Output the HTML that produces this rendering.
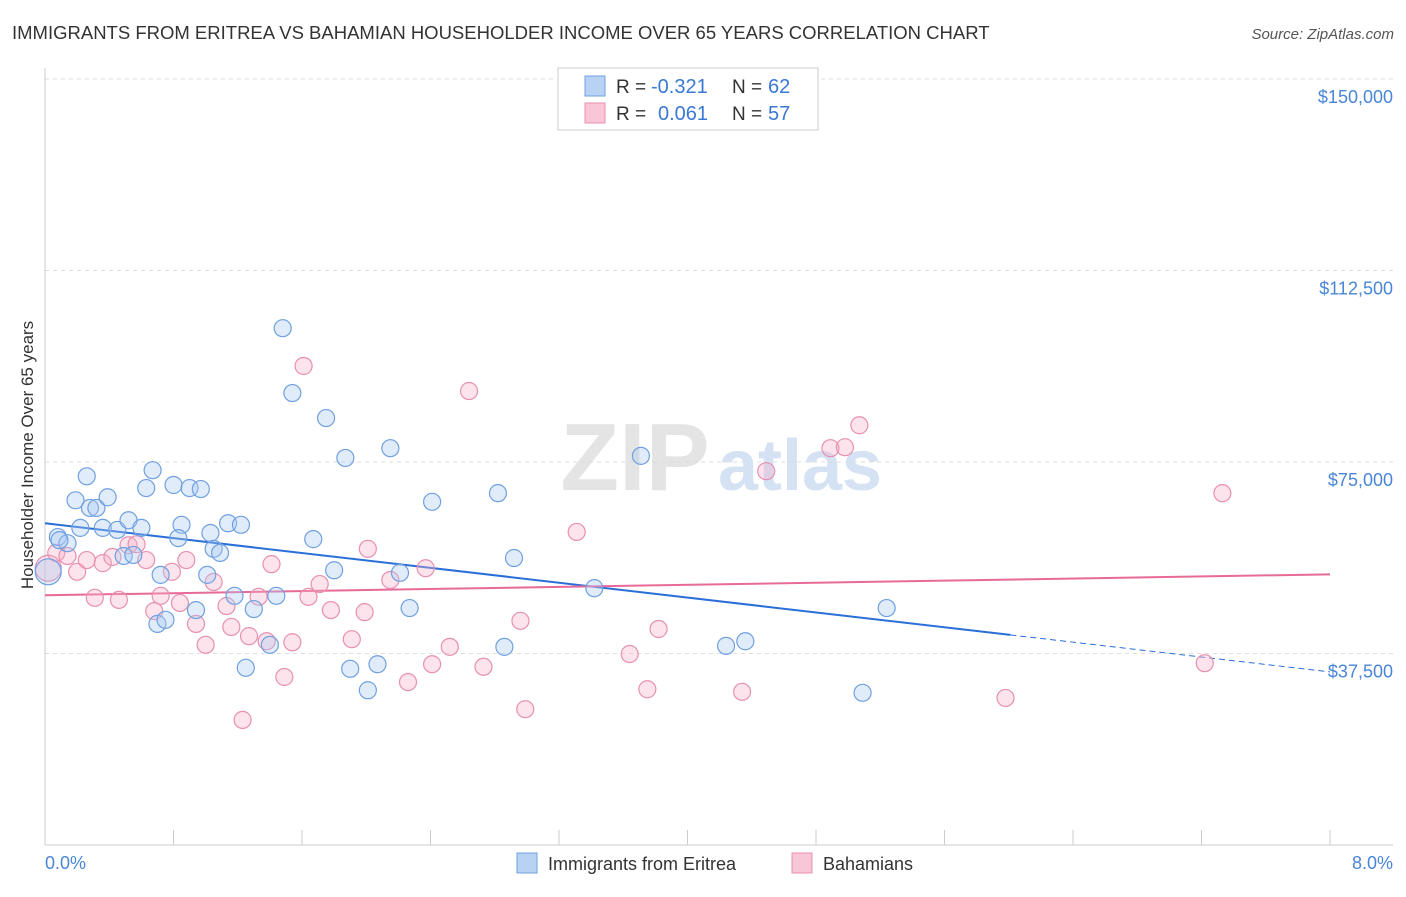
<!DOCTYPE html>
<html><head><meta charset="utf-8"><style>
body{margin:0;background:#fff;font-family:"Liberation Sans",sans-serif;}
svg text{font-family:"Liberation Sans",sans-serif;}
</style></head><body>
<svg id="chart" width="1406" height="892" viewBox="0 0 1406 892" xmlns="http://www.w3.org/2000/svg">
<text x="12" y="39" font-size="18.5" fill="#333">IMMIGRANTS FROM ERITREA VS BAHAMIAN HOUSEHOLDER INCOME OVER 65 YEARS CORRELATION CHART</text>
<text x="1394" y="39" font-size="15" fill="#555" text-anchor="end" font-style="italic">Source: ZipAtlas.com</text>
<g>
<text x="635" y="490" font-size="96" fill="#e4e4e4" text-anchor="middle" font-family="Liberation Serif" font-weight="bold">ZIP</text>
<text x="800" y="490" font-size="72" fill="#d4e2f4" text-anchor="middle" font-weight="bold">atlas</text>
</g>
<g id="grid"></g>
<g id="axes"></g>
<g id="lines"></g>
<g id="points"></g>
<text transform="translate(33,455) rotate(-90)" font-size="17" fill="#333" text-anchor="middle">Householder Income Over 65 years</text>
<text x="45" y="869" font-size="18" fill="#4a86d8">0.0%</text>
<text x="1393" y="869" font-size="18" fill="#4a86d8" text-anchor="end">8.0%</text>
<g>
<rect x="558" y="68" width="260" height="62" fill="#fff" stroke="#ccc"/>
<rect x="585" y="76" width="20" height="20" fill="#b8d2f4" stroke="#6fa0e0"/>
<rect x="585" y="103" width="20" height="20" fill="#f8c6d6" stroke="#e890b0"/>
<text x="616" y="93" font-size="19" fill="#333">R =</text>
<text x="651" y="93" font-size="20" fill="#3a78d4">-0.321</text>
<text x="732" y="93" font-size="19" fill="#333">N =</text>
<text x="768" y="93" font-size="20" fill="#3a78d4">62</text>
<text x="616" y="120" font-size="19" fill="#333">R =</text>
<text x="658" y="120" font-size="20" fill="#3a78d4">0.061</text>
<text x="732" y="120" font-size="19" fill="#333">N =</text>
<text x="768" y="120" font-size="20" fill="#3a78d4">57</text>
</g>
<g>
<rect x="517" y="853" width="20" height="20" fill="#b8d2f4" stroke="#6fa0e0"/>
<text x="548" y="870" font-size="18" fill="#333">Immigrants from Eritrea</text>
<rect x="792" y="853" width="20" height="20" fill="#f8c6d6" stroke="#e890b0"/>
<text x="823" y="870" font-size="18" fill="#333">Bahamians</text>
</g>
</svg>
<script>
const yTicks=[150000,112500,75000,37500];
const yTickLabels=["$150,000","$112,500","$75,000","$37,500"];
const xTicks=[0,0.8,1.6,2.4,3.2,4.0,4.8,5.6,6.4,7.2,8.0];
const blueX=[.02,.08,.14,.09,.19,.26,.22,.28,.32,.39,.36,.45,.49,.52,.55,.60,.63,.67,.72,.70,.75,.80,.85,.83,.90,.97,.94,1.01,1.03,1.05,1.09,1.14,1.18,1.22,1.25,1.30,1.40,1.44,1.48,1.54,1.67,1.75,1.80,1.87,1.90,2.01,2.07,2.15,2.21,2.27,2.41,2.82,2.86,2.92,3.42,3.71,4.24,4.36,5.09,5.24];
const blueY=[53.5,60.3,59.1,59.7,67.5,72.2,62.1,66.0,66.0,68.1,62.1,61.7,56.6,63.6,56.8,62.1,69.9,73.4,52.9,43.3,44.1,70.5,62.7,60.1,69.9,69.7,46.0,52.9,61.1,58.0,57.2,63.0,48.8,62.7,34.7,46.2,39.2,48.8,101.2,88.5,59.9,83.6,53.8,75.8,34.5,30.3,35.4,77.7,53.3,46.4,67.2,68.9,38.8,56.2,50.3,76.2,39.0,39.9,29.8,46.4];
const pinkX=[.02,.07,.14,.20,.26,.31,.36,.42,.46,.52,.57,.63,.68,.72,.79,.84,.88,.94,1.00,1.05,1.13,1.16,1.23,1.27,1.33,1.38,1.41,1.49,1.54,1.61,1.64,1.71,1.78,1.91,1.99,2.01,2.15,2.26,2.37,2.41,2.52,2.64,2.73,2.96,2.99,3.31,3.64,3.75,3.82,4.34,4.49,4.89,4.98,5.07,5.98,7.22,7.33];
const pinkY=[54.2,57.2,56.6,53.5,55.8,48.4,55.2,56.4,48.0,58.7,58.9,55.8,45.8,48.8,53.5,47.4,55.8,43.3,39.2,51.5,46.8,42.7,24.5,40.9,48.6,39.9,55.0,32.9,39.7,93.8,48.6,51.1,46.0,40.3,45.6,58.0,51.9,31.9,54.2,35.4,38.8,88.9,34.9,43.9,26.6,61.3,37.4,30.5,42.3,30.0,73.2,77.7,77.9,82.2,28.8,35.6,68.9];
const blueTrend=[63.0,33.9];
const blueSolidEnd=6.01;
const pinkTrend=[48.9,53.0];

const NS="http://www.w3.org/2000/svg";
const X=v=>45+v*(1285/8);
const Y=v=>845-v/150000*766;
const Yk=v=>Y(v*1000);
function mk(tag,attrs,parent){const e=document.createElementNS(NS,tag);for(const k in attrs)e.setAttribute(k,attrs[k]);parent.appendChild(e);return e;}
const grid=document.getElementById('grid'),axes=document.getElementById('axes'),lines=document.getElementById('lines'),pts=document.getElementById('points');
yTicks.forEach((t,i)=>{
 const l=mk('line',{x1:45,x2:1393,y1:Y(t),y2:Y(t),stroke:'#ddd','stroke-dasharray':'4,4'},grid);
 
 
 const tx=mk('text',{x:1393,y:Y(t)+24,'font-size':18,fill:'#4a86d8','text-anchor':'end'},grid);
 tx.textContent=yTickLabels[i];
 
 
});
const ax=mk('line',{x1:45,x2:1393,y1:845,y2:845,stroke:'#ccc'},axes);


const ay=mk('line',{x1:45,x2:45,y1:68,y2:845,stroke:'#ccc'},axes);


xTicks.forEach(t=>{
 const l=mk('line',{x1:X(t),x2:X(t),y1:830,y2:845,stroke:'#ccc'},axes);
 
 
});
function dot(x,y,r,fill,stroke,name){
 const c=mk('circle',{cx:X(x),cy:Yk(y),r:r,fill:fill,'fill-opacity':0.35,stroke:stroke,'stroke-width':1.2},pts);
 
 
}
pinkX.forEach((x,i)=>dot(x,pinkY[i],i==0?13:8.5,'#f5b0c8','#e890b0','bahamians-point'));
blueX.forEach((x,i)=>dot(x,blueY[i],i==0?13:8.5,'#a8c8f0','#6fa0e0','eritrea-point'));
const by=x=>blueTrend[0]+(blueTrend[1]-blueTrend[0])*x/8;
const b1=mk('line',{x1:X(0),y1:Yk(by(0)),x2:X(blueSolidEnd),y2:Yk(by(blueSolidEnd)),stroke:'#2a6fd8','stroke-width':2},lines);


const b2=mk('line',{x1:X(blueSolidEnd),y1:Yk(by(blueSolidEnd)),x2:X(8),y2:Yk(by(8)),stroke:'#2a6fd8','stroke-width':1,'stroke-dasharray':'6,4'},lines);


const p1=mk('line',{x1:X(0),y1:Yk(pinkTrend[0]),x2:X(8),y2:Yk(pinkTrend[1]),stroke:'#e86a98','stroke-width':2},lines);


</script>
</body></html>
